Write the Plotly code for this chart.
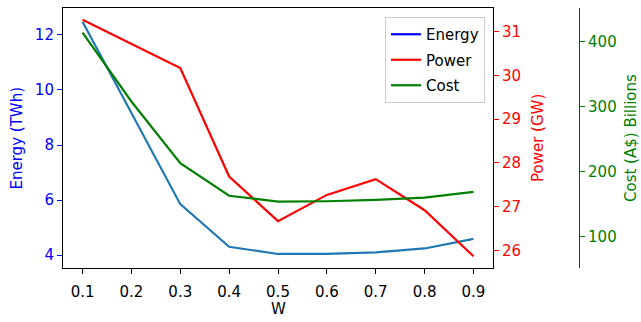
import plotly.graph_objects as go

W = [0.1, 0.2, 0.3, 0.4, 0.5, 0.6, 0.7, 0.8, 0.9]
energy_twh = [12.48, 9.15, 5.85, 4.30, 4.04, 4.04, 4.10, 4.24, 4.59]
power_gw = [31.27, 30.72, 30.17, 27.69, 26.67, 27.27, 27.63, 26.92, 25.87]
cost_bn = [414, 308, 213, 163, 154, 154.5, 156.5, 160, 169]

x_ticks = [0.1, 0.2, 0.3, 0.4, 0.5, 0.6, 0.7, 0.8, 0.9]
x_ticklabels = ["0.1", "0.2", "0.3", "0.4", "0.5", "0.6", "0.7", "0.8", "0.9"]
energy_ticks = [4, 6, 8, 10, 12]
power_ticks = [26, 27, 28, 29, 30, 31]
cost_ticks = [100, 200, 300, 400]

FW, FH = 641, 322
L, R, T, B = 63, 493, 8, 268
font = "DejaVu Sans"
fs = 15

fig = go.Figure()
fig.add_trace(go.Scatter(x=W, y=energy_twh, mode="lines", line=dict(color="#1f77b4", width=2.2),
                         showlegend=False, yaxis="y"))
fig.add_trace(go.Scatter(x=[None], y=[None], mode="lines", line=dict(color="blue", width=2.2),
                         name="Energy", legendgroup="a", yaxis="y"))
fig.add_trace(go.Scatter(x=W, y=power_gw, mode="lines", line=dict(color="red", width=2.2),
                         name="Power", legendgroup="b", yaxis="y2"))
fig.add_trace(go.Scatter(x=W, y=cost_bn, mode="lines", line=dict(color="green", width=2.2),
                         name="Cost", legendgroup="c", yaxis="y3"))

ydom = [1 - B / FH, 1 - T / FH]
common = dict(showgrid=False, zeroline=False, ticks="outside", ticklen=5, tickwidth=1.1,
              automargin=False)

fig.update_layout(
    width=FW, height=FH,
    margin=dict(l=0, r=0, t=0, b=0),
    paper_bgcolor="white", plot_bgcolor="white",
    font=dict(family=font, size=fs, color="black"),
    xaxis=dict(domain=[L / FW, R / FW], range=[0.06, 0.94], tickvals=x_ticks, ticktext=x_ticklabels,
               showline=True, linecolor="black", linewidth=1.1, mirror=True, tickcolor="black",
               anchor="y", tickfont=dict(family=font, size=fs, color="black"),
               ticklabelstandoff=5, **common),
    yaxis=dict(domain=ydom, range=[3.53, 12.98], tickvals=energy_ticks,
               showline=True, linecolor="black", linewidth=1.1, tickcolor="blue",
               tickfont=dict(family=font, size=fs, color="blue"), anchor="x", **common),
    yaxis2=dict(domain=ydom, range=[25.6, 31.54], tickvals=power_ticks, overlaying="y", side="right",
                showline=True, linecolor="black", linewidth=1.1, tickcolor="red",
                tickfont=dict(family=font, size=fs, color="red"), anchor="x", **common),
    yaxis3=dict(domain=ydom, range=[51.8, 451.8], tickvals=cost_ticks, overlaying="y", side="right",
                anchor="free", position=579 / FW,
                showline=True, linecolor="#333333", linewidth=1.1, tickcolor="green",
                tickfont=dict(family=font, size=fs, color="green"), **common),
    legend=dict(x=485 / FW, y=1 - 17 / FH, xanchor="right", yanchor="top",
                bgcolor="rgba(255,255,255,0.8)", bordercolor="#cccccc", borderwidth=1,
                font=dict(family=font, size=fs), tracegroupgap=3, traceorder="grouped",
                itemwidth=30, entrywidth=70, entrywidthmode="pixels"),
    annotations=[
        dict(text="Energy (TWh)", x=16.5 / FW, y=1 - 138 / FH, xref="paper", yref="paper",
             xanchor="center", yanchor="middle",
             textangle=-90, showarrow=False, font=dict(color="blue", size=fs, family=font)),
        dict(text="Power (GW)", x=538 / FW, y=1 - 138 / FH, xref="paper", yref="paper",
             xanchor="center", yanchor="middle",
             textangle=-90, showarrow=False, font=dict(color="red", size=fs, family=font)),
        dict(text="Cost (A$) Billions", x=631 / FW, y=1 - 138 / FH, xref="paper", yref="paper",
             xanchor="center", yanchor="middle",
             textangle=-90, showarrow=False, font=dict(color="green", size=fs, family=font)),
        dict(text="W", x=278 / FW, y=1 - 309 / FH, xref="paper", yref="paper",
             xanchor="center", yanchor="middle",
             showarrow=False, font=dict(color="black", size=fs, family=font)),
    ],
)

fig.write_html("out.html")
